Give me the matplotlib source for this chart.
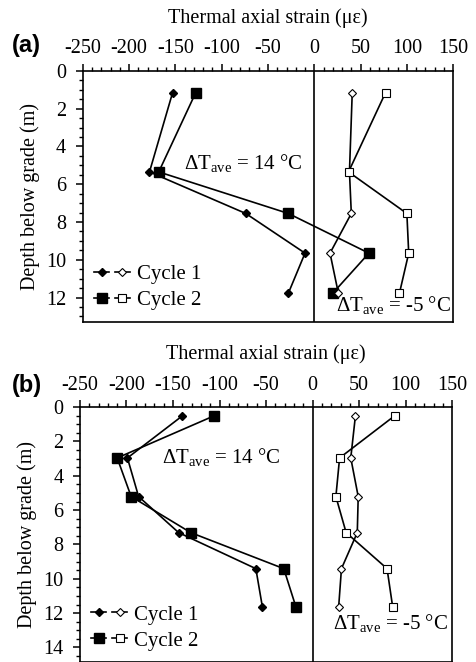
import matplotlib
matplotlib.use("Agg")
import matplotlib.pyplot as plt
from matplotlib.lines import Line2D
from matplotlib.legend_handler import HandlerTuple
from matplotlib.ticker import MultipleLocator

plt.rcParams['font.family'] = ['Liberation Serif', 'DejaVu Serif']
plt.rcParams['mathtext.fontset'] = 'custom'
plt.rcParams['mathtext.rm'] = 'Liberation Serif'
plt.rcParams['mathtext.it'] = 'Liberation Serif:italic'
plt.rcParams['axes.unicode_minus'] = False

#----------------------------------------------------------------- data -----------------------------------------------------------------#
# panel (a)
depth_a = [1.15, 5.35, 7.55, 9.65, 11.77]
heat1_a = [-153, -178, -74, -10, -28]
heat2_a = [-128, -168, -28, 59, 20]
cool1_a = [41, 38, 40, 17, 26]
cool2_a = [77, 37, 100, 102, 92]

# panel (b)
depth_b = [0.51, 2.96, 5.21, 7.31, 9.41, 11.63]
heat1_b = [-140, -199, -187, -144, -61, -54]
heat2_b = [-106, -210, -195, -131, -31, -18]
cool1_b = [46, 41, 49, 48, 31, 28]
cool2_b = [88, 29, 25, 36, 80, 86]

xticks = [-250, -200, -150, -100, -50, 0, 50, 100, 150]

dT = r'$\Delta\mathregular{T}_{\mathregular{ave}}$'


def panel(ax, depth, h1, h2, c1, c2, ymax, ytick_max, lab, t14, t5):
    ax.plot(h1, depth, color='k', lw=1.2, marker='D', ms=4.5, mfc='k', mec='k')
    ax.plot(h2, depth, color='k', lw=1.2, marker='s', ms=7, mfc='k', mec='k')
    ax.plot(c1, depth, color='k', lw=1.2, marker='D', ms=4.5, mfc='white', mec='k', mew=0.8)
    ax.plot(c2, depth, color='k', lw=1.2, marker='s', ms=6, mfc='white', mec='k', mew=0.8)
    ax.axvline(0, color='k', lw=1.2)

    ax.set_xlim(-250, 150)
    ax.set_ylim(ymax, 0)
    ax.xaxis.tick_top()
    ax.xaxis.set_label_position('top')
    ax.set_xticks(xticks)
    ax.xaxis.set_minor_locator(MultipleLocator(10))
    ax.set_yticks(range(0, ytick_max + 1, 2))
    ax.yaxis.set_minor_locator(MultipleLocator(0.5))
    ax.tick_params(axis='both', which='major', direction='out', length=5, width=1.1, labelsize=14.5)
    ax.tick_params(axis='x', which='major', pad=4)
    ax.tick_params(axis='y', which='major', pad=7)
    ax.tick_params(axis='both', which='minor', direction='out', length=3, width=1.0)
    for s in ax.spines.values():
        s.set_linewidth(1.2)

    ax.set_xlabel('Thermal axial strain (\u03bc\u03b5)', fontsize=14.5, labelpad=12)
    ax.set_ylabel('Depth below grade (m)', fontsize=14.5, labelpad=4)

    ax.text(t14[0], t14[1], dT + ' = 14 \u00b0C', fontsize=15, ha='center', va='center')
    ax.text(t5[0], t5[1], dT + ' = -5 \u00b0C', fontsize=15, ha='left', va='center')

    hs = []
    for m, ms in [('D', 4.5), ('s', 7)]:
        f = Line2D([], [], color='k', lw=1.2, marker=m, ms=ms, mfc='k', mec='k')
        o = Line2D([], [], color='k', lw=1.2, marker=m, ms=ms - 1 if m == 's' else ms,
                   mfc='white', mec='k', mew=0.8)
        hs.append((f, o))
    ax.legend(hs, ['Cycle 1', 'Cycle 2'], handler_map={tuple: HandlerTuple(ndivide=None, pad=0.3)},
              loc='lower left', frameon=False, fontsize=15, handlelength=1.7,
              handletextpad=0.35, labelspacing=0.3, borderaxespad=0.15)

    ax.figure.text(0.025, lab[1], lab[0], fontsize=17, fontweight='bold',
                   family='Liberation Sans', ha='left', va='center')


fig = plt.figure(figsize=(4.76, 6.62), dpi=100)
ax1 = fig.add_axes([0.174, 0.514, 0.778, 0.379])
ax2 = fig.add_axes([0.168, 0.0, 0.782, 0.385])

panel(ax1, depth_a, heat1_a, heat2_a, cool1_a, cool2_a, 13.28, 12, ('(a)', 0.932),
      (-77, 4.9), (24, 12.4))
panel(ax2, depth_b, heat1_b, heat2_b, cool1_b, cool2_b, 14.85, 14, ('(b)', 0.418),
      (-98, 2.9), (22, 12.6))

fig.savefig('out.png', dpi=100)
